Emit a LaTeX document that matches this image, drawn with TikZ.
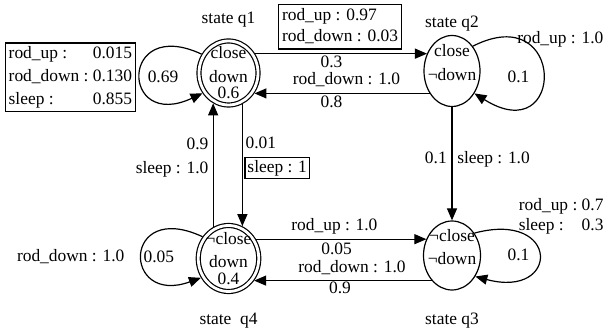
\documentclass[tikz,border=0pt]{standalone}
\usepackage{fontspec}
\setmainfont{Liberation Serif}
\usetikzlibrary{shapes.geometric, arrows.meta, positioning}

\begin{document}
\begin{tikzpicture}[
        x=1pt, y=1pt,
        font=\fontsize{17.4}{20.5}\selectfont,
        >={Triangle[length=12pt, width=10pt]},
        % --- Styles ---
        state/.style={ellipse, draw, line width=1.2pt, inner sep=-15pt, align=center, text depth=0.5pt},
        final/.style={state, double, double distance=2.8pt, outer sep=2.6pt},
        probbox/.style={rectangle, draw, line width=1.4pt, inner xsep=3.5pt, inner ysep=1.2pt},
        tag/.style={inner sep=1pt},
        lbl/.style={inner sep=1pt},
        % --- Line Styles ---
        line/.style={draw, ->, line width=1.2pt}
    ]
        \useasboundingbox (0,0) rectangle (604,336);

        % --- States ---
        \node[final, minimum width=59pt, minimum height=64pt] (q1) at (228.5,263) {close\\[2.8pt]down\\[-4pt]0.6};
        \node[state, minimum width=56pt, minimum height=71pt] (q2) at (452,265) {close\\[2.8pt]¬down\\[-4pt]\mbox{}};
        \node[state, minimum width=57pt, minimum height=69pt] (q3) at (452,80.5) {¬close\\[2.8pt]¬down\\[-4pt]\mbox{}};
        \node[final, minimum width=60.5pt, minimum height=66pt] (q4) at (q1 |- 0,77.5) {¬close\\[2.8pt]down\\[-4pt]0.4};

        % --- State names ---
        \node[tag, above=9.6pt of q1] (tq1) {state q1};
        \node[tag, above=2pt of q2] (tq2) {state q2};
        \node[tag, below=21.6pt of q3] (tq3) {state q3};
        \node[tag, below=18.1pt of q4] (tq4) {state~~q4};

        % --- Top row ---
        \draw[line] (q1.36) -- node[probbox, above=3.8pt, pos=0.494] {\begin{tabular}{@{}l@{}}rod\_up : 0.97\\[1pt]rod\_down : 0.03\end{tabular}}
                               node[lbl, below=0.5pt, pos=0.444] {0.3} (q1.36 -| q2.145);
        \draw[line] (q2.225) -- node[lbl, above=5.5pt, pos=0.475] {rod\_down : 1.0}
                                node[lbl, below=0.5pt, pos=0.56] {0.8} (q2.225 -| q1.322);

        % --- Verticals ---
        \draw[line] (q4.116) -- node[lbl, left=3.2pt, pos=0.564, align=right] {0.9\\[3.5pt]sleep : 1.0} (q4.116 |- q1.243);
        \draw[line] (q1.294) -- node[lbl, right=1.6pt, pos=0.321] {0.01}
                                node[probbox, right=1.9pt, pos=0.523, inner ysep=0pt, inner xsep=2.5pt] {\begin{tabular}{@{}l@{}}sleep : 1\end{tabular}} (q1.294 |- q4.67);
        \draw[line] (q2.south) -- node[lbl, left=3.7pt, pos=0.444] {0.1}
                                  node[lbl, right=3.7pt, pos=0.46] {sleep : 1.0} (q3.north);

        % --- Bottom row ---
        \draw[line] (q4.35) -- node[lbl, above=3pt, pos=0.46] {rod\_up : 1.0}
                               node[lbl, below=1.7pt, pos=0.473] {0.05} (q4.35 -| q3.147);
        \draw[line] (q3.231) -- node[lbl, above=4.7pt, pos=0.449] {rod\_down : 1.0}
                                node[lbl, below=0pt, pos=0.516] {0.9} (q3.231 -| q4.319);

        % --- Self loops ---
        \draw[line] (q1.145) .. controls +(155:91) and +(205:91) .. (q1.218)
            node[lbl, pos=0.53, right=5.7pt] {0.69}
            node[probbox, pos=0.53, left=4.3pt] {\begin{tabular}{@{}l@{\ }r@{}}rod\_up : & 0.015\\[2.3pt]rod\_down : & 0.130\\[2.3pt]sleep : & 0.855\end{tabular}};
        \draw[line] (q2.50) .. controls +(27:105) and +(-32:108) .. (q2.315)
            node[lbl, pos=0.52, left=12pt] {0.1}
            node[lbl, pos=0.2, anchor=base west, xshift=-2pt, yshift=-5.5pt] {rod\_up : 1.0};
        \draw[line] (q3.45) .. controls +(15:89) and +(-15:88) .. (q3.318)
            node[lbl, pos=0.5, left=8pt] {0.1}
            node[lbl, pos=0.15, anchor=base west, xshift=10pt, yshift=19.5pt] {\begin{tabular}[t]{@{}l@{\ }r@{}}rod\_up : & 0.7\\sleep : & 0.3\end{tabular}};
        \draw[line] (q4.140) .. controls +(155:89) and +(200:84) .. (q4.215)
            node[lbl, pos=0.53, right=0pt] {0.05}
            node[lbl, pos=0.52, left=16pt] {rod\_down : 1.0};

    \end{tikzpicture}
\end{document}
